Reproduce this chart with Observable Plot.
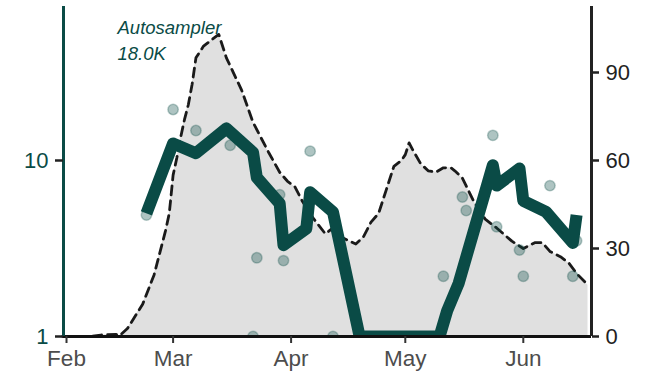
<!DOCTYPE html>
<html><head><meta charset="utf-8">
<script src="https://cdn.jsdelivr.net/npm/d3@7"></script>
<script src="https://cdn.jsdelivr.net/npm/@observablehq/plot@0.6"></script>
<style>body{margin:0;background:#fff} svg{display:block}</style>
</head><body><div id="chart"></div>
<script>
// Wastewater (right axis, linear)
const wwDates = ["2021-01-31","2021-02-07","2021-02-10","2021-02-14","2021-02-15","2021-02-17","2021-02-21","2021-02-24","2021-02-26","2021-02-27","2021-02-28","2021-03-01","2021-03-02","2021-03-03","2021-03-04","2021-03-05","2021-03-06","2021-03-07","2021-03-09","2021-03-11","2021-03-13","2021-03-15","2021-03-19","2021-03-22","2021-03-26","2021-03-29","2021-03-31","2021-04-02","2021-04-04","2021-04-07","2021-04-10","2021-04-12","2021-04-14","2021-04-18","2021-04-20","2021-04-22","2021-04-24","2021-04-26","2021-04-28","2021-04-30","2021-05-01","2021-05-02","2021-05-03","2021-05-05","2021-05-07","2021-05-09","2021-05-11","2021-05-13","2021-05-14","2021-05-16","2021-05-19","2021-05-22","2021-05-25","2021-05-29","2021-06-01","2021-06-04","2021-06-06","2021-06-08","2021-06-11","2021-06-13","2021-06-15","2021-06-18"];
const wwValues = [0,0,0.5,0.7,0.3,2.7,11,21,31,36,42,55,61,68,74,79,86,95,99,101,103,95,84,73,63,56,53,51,46,40,35,37,34,31.5,34,39,42,50,58,60,62,66,63.5,59,56.5,56,57.5,57.5,56.5,54,46,40,37,32.5,30,32,32,29,27,25,21.5,17.5];

// Cases (left axis, log) – smoothed line
const lineDates = ["2021-02-22","2021-03-01","2021-03-07","2021-03-15","2021-03-22","2021-03-23","2021-03-29","2021-03-30","2021-04-05","2021-04-06","2021-04-12","2021-04-19","2021-04-26","2021-05-03","2021-05-10","2021-05-12","2021-05-15","2021-05-24","2021-05-25","2021-05-31","2021-06-01","2021-06-07","2021-06-14","2021-06-15"];
const lineValues = [5.0,12.5,11.0,15.2,11.1,8.0,5.7,3.3,4.1,6.6,5.1,1,1,1,1,1.4,2.0,9.4,7.2,9.0,5.9,5.1,3.4,4.9];

// Cases (left axis, log) – individual points
const pointDates = ["2021-02-22","2021-03-01","2021-03-07","2021-03-16","2021-03-22","2021-03-23","2021-03-29","2021-03-30","2021-04-06","2021-04-12","2021-05-11","2021-05-16","2021-05-17","2021-05-24","2021-05-25","2021-05-31","2021-06-01","2021-06-08","2021-06-14","2021-06-15"];
const pointValues = [4.9,19.5,14.8,12.2,1,2.8,6.4,2.7,11.3,1,2.2,6.2,5.2,13.9,4.2,3.1,2.2,7.2,2.2,3.5];

const monthTicks = ["2021-02-01","2021-03-01","2021-04-01","2021-05-01","2021-06-01"];
const rightTicks = [0, 30, 60, 90];
const leftTicks = [1, 10];
const annotation = ["Autosampler", "18.0K"];

const teal = "#0a4b46";
const toY = v => 60 * Math.log10(v);   // log axis mapped onto the linear right axis (1→0, 10→60)

const ww = wwDates.map((d, i) => ({date: new Date(d), value: wwValues[i]}));
const line = lineDates.map((d, i) => ({date: new Date(d), value: lineValues[i]}));
const pts = pointDates.map((d, i) => ({date: new Date(d), value: pointValues[i]}));
const xDomain = [new Date(Date.UTC(2021,0,31,5)), new Date(Date.UTC(2021,5,18,22))];

const chart = Plot.plot({
  width: 652, height: 374,
  marginTop: 6, marginBottom: 38, marginLeft: 63, marginRight: 61,
  style: {fontFamily: "'Liberation Sans', Arial, Helvetica, sans-serif", background: "#fff"},
  x: {type: "utc", domain: xDomain},
  y: {domain: [0, 112.5]},
  marks: [
    Plot.areaY(ww, {x: "date", y: "value", fill: "#e0e0e0"}),
    Plot.lineY(ww, {x: "date", y: "value", stroke: "#1a1a1a", strokeWidth: 2.8, strokeDasharray: "9,6"}),
    Plot.dot(pts, {x: "date", y: d => toY(d.value), r: 5.2, fill: teal, fillOpacity: 0.33, stroke: teal, strokeOpacity: 0.28, strokeWidth: 1.5, clip: true}),
    Plot.lineY(line, {x: "date", y: d => toY(d.value), stroke: teal, strokeWidth: 12, strokeLinejoin: "round", strokeLinecap: "butt", clip: true}),
    Plot.text([annotation.join("\n")], {frameAnchor: "top-left", dx: 54, dy: 9, lineAnchor: "top", textAnchor: "start", fontStyle: "italic", fontSize: 18.5, lineHeight: 1.42, fill: teal}),
    Plot.ruleY([0], {stroke: "#111", strokeWidth: 3}),
    Plot.ruleX([xDomain[0]], {stroke: teal, strokeWidth: 3}),
    Plot.ruleX([xDomain[1]], {stroke: "#222", strokeWidth: 3}),
    Plot.axisX({ticks: monthTicks.map(d => new Date(d)), tickFormat: d3.utcFormat("%b"), tickSize: 7, tickPadding: 7, fontSize: 22.5, stroke: "#333", strokeWidth: 2, fill: "#4d4d4d", label: null}),
    Plot.axisY({anchor: "right", ticks: rightTicks, tickSize: 7, tickPadding: 7, fontSize: 22, stroke: "#222", strokeWidth: 2.5, fill: "#222", label: null}),
    Plot.axisY({anchor: "left", ticks: leftTicks.map(toY), tickFormat: d => String(Math.round(10 ** (d / 60))), tickSize: 8, tickPadding: 7, fontSize: 22, stroke: "#222", strokeWidth: 2.5, fill: teal, label: null})
  ]
});
document.getElementById("chart").appendChild(chart);
</script>
</body></html>
